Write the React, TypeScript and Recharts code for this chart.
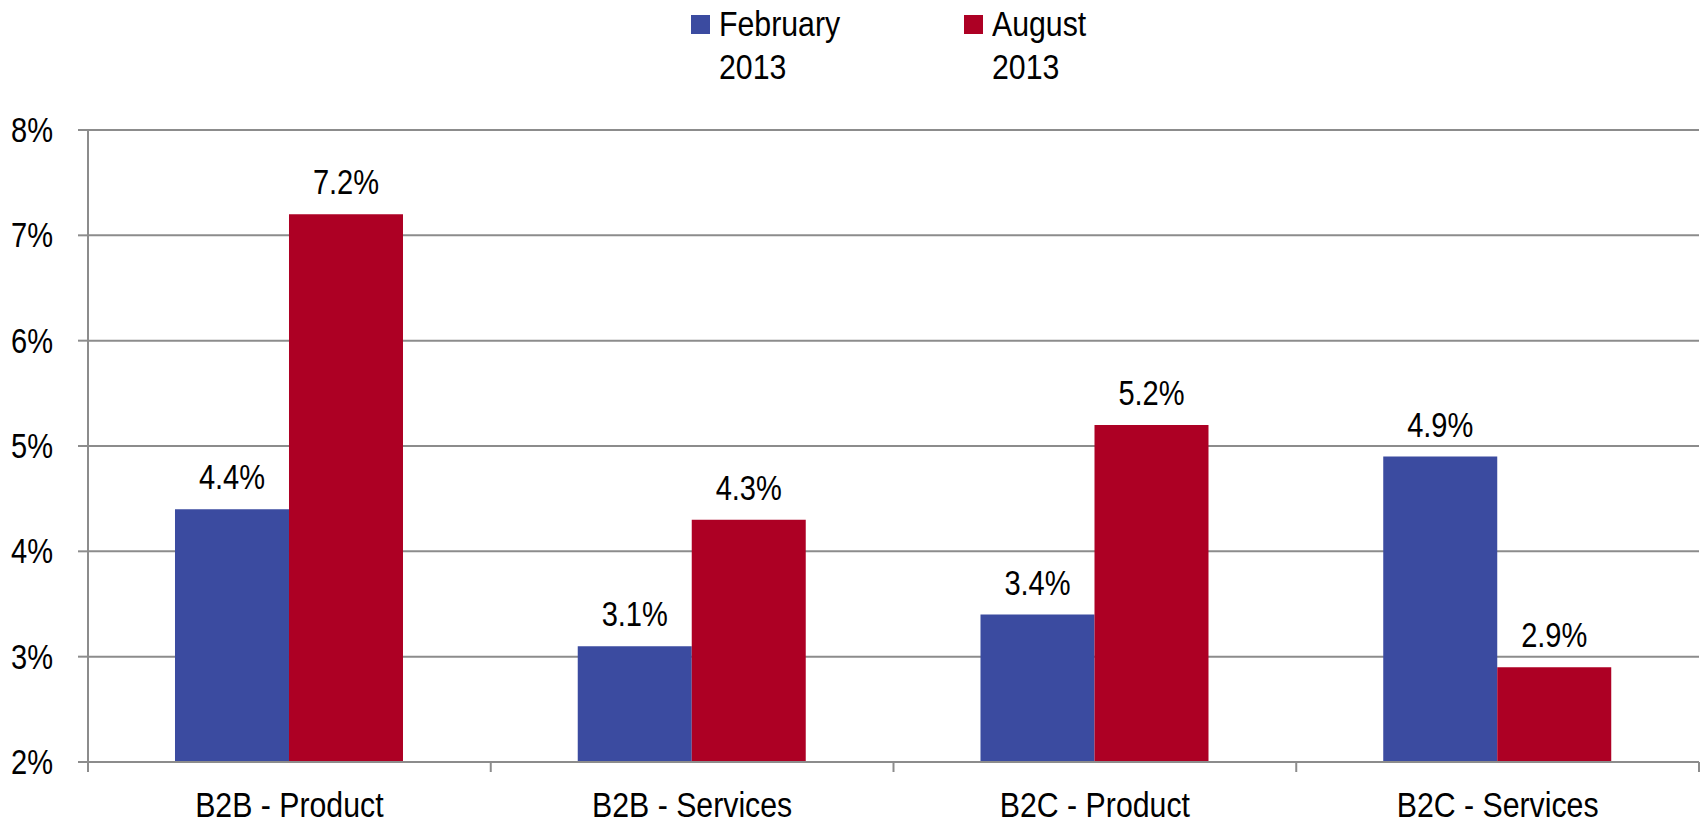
import { BarChart, Bar, XAxis, YAxis, CartesianGrid, Legend, LabelList } from "recharts"

const categories = ["B2B - Product", "B2B - Services", "B2C - Product", "B2C - Services"]
const february2013 = [4.4, 3.1, 3.4, 4.9]
const august2013 = [7.2, 4.3, 5.2, 2.9]
const yTicks = [2, 3, 4, 5, 6, 7, 8]
const seriesNames = [["February", "2013"], ["August", "2013"]]

const BLUE = "#3b4ba0"
const RED = "#ad0024"
const GRID = "#8c8c8c"
const FONT = "'Liberation Sans', Arial, sans-serif"
// no Arial Narrow installed, so squeeze Liberation Sans instead (digits squeeze a bit more)
const SQ_WORD = 0.865
const SQ_NUM = 0.83
const FS = 35

const W = 1702
const H = 824
const MARGIN = { top: 130, right: 3, bottom: 0, left: 0 }
const Y_W = 88
const PLOT_W = W - MARGIN.left - MARGIN.right - Y_W
const BAND = PLOT_W / categories.length

const data = categories.map((c, i) => ({ name: c, feb: february2013[i], aug: august2013[i] }))

function NText({ x, y, anchor = "middle", dy = 0, sq = SQ_NUM, children }: any) {
  return (
    <text transform={`translate(${x},${y}) scale(${sq},1)`} textAnchor={anchor} dy={dy}
      fill="#000" fontSize={FS} fontFamily={FONT}>
      {children}
    </text>
  )
}

// category label plus the boundary tick marks (the original ticks sit between groups)
function CatTick(props: any) {
  const { x, y, payload, index } = props
  const left = x - BAND / 2
  return (
    <g>
      <line x1={left} x2={left} y1={y} y2={y + 10} stroke={GRID} strokeWidth={2} />
      {index === categories.length - 1 && (
        <line x1={x + BAND / 2} x2={x + BAND / 2} y1={y} y2={y + 10} stroke={GRID} strokeWidth={2} />
      )}
      <NText x={x} y={y + 55} sq={SQ_WORD}>{payload.value}</NText>
    </g>
  )
}

function ValTick(props: any) {
  const { x, y, payload } = props
  return <NText x={x} y={y} anchor="end" dy={12}>{`${payload.value}%`}</NText>
}

function BarLabel(props: any) {
  const { x, y, width, value } = props
  return <NText x={x + width / 2} y={y - 20}>{`${value}%`}</NText>
}

function TopLegend() {
  const colours = [BLUE, RED]
  const xs = [691, 964]
  return (
    <div style={{ position: "relative", width: W, height: 90, fontFamily: FONT, fontSize: FS, color: "#000" }}>
      {seriesNames.map((lines, i) => (
        <div key={i} style={{ position: "absolute", left: xs[i], top: 0 }}>
          <div style={{ position: "absolute", left: 0, top: 15, width: 19, height: 19, background: colours[i] }} />
          <div style={{ position: "absolute", left: 28, top: 2, lineHeight: "43px", whiteSpace: "nowrap",
            transform: `scaleX(${SQ_WORD})`, transformOrigin: "left top" }}>
            {lines.map((l, j) => <div key={j}>{l}</div>)}
          </div>
        </div>
      ))}
    </div>
  )
}

export default function App() {
  return (
    <div style={{ position: "absolute", left: 0, top: 0, width: W, height: H, background: "#fff" }}>
      <BarChart width={W} height={H} data={data} margin={MARGIN} barCategoryGap="21.6%" barGap={0}>
        <CartesianGrid vertical={false} stroke={GRID} strokeWidth={2} />
        <XAxis
          dataKey="name"
          height={62}
          axisLine={{ stroke: GRID, strokeWidth: 2 }}
          tickLine={false}
          tickSize={0}
          tickMargin={0}
          interval={0}
          tick={<CatTick />}
        />
        <YAxis
          domain={[2, 8]}
          ticks={yTicks}
          width={Y_W}
          allowDataOverflow
          axisLine={{ stroke: GRID, strokeWidth: 2 }}
          tickLine={{ stroke: GRID, strokeWidth: 2 }}
          tickSize={10}
          tickMargin={25}
          tick={<ValTick />}
        />
        <Legend
          verticalAlign="middle"
          layout="horizontal"
          wrapperStyle={{ position: "absolute", top: 0, left: 0, width: W }}
          content={() => <TopLegend />}
        />
        <Bar dataKey="feb" name="February 2013" fill={BLUE} isAnimationActive={false}>
          <LabelList dataKey="feb" content={<BarLabel />} />
        </Bar>
        <Bar dataKey="aug" name="August 2013" fill={RED} isAnimationActive={false}>
          <LabelList dataKey="aug" content={<BarLabel />} />
        </Bar>
      </BarChart>
    </div>
  )
}
